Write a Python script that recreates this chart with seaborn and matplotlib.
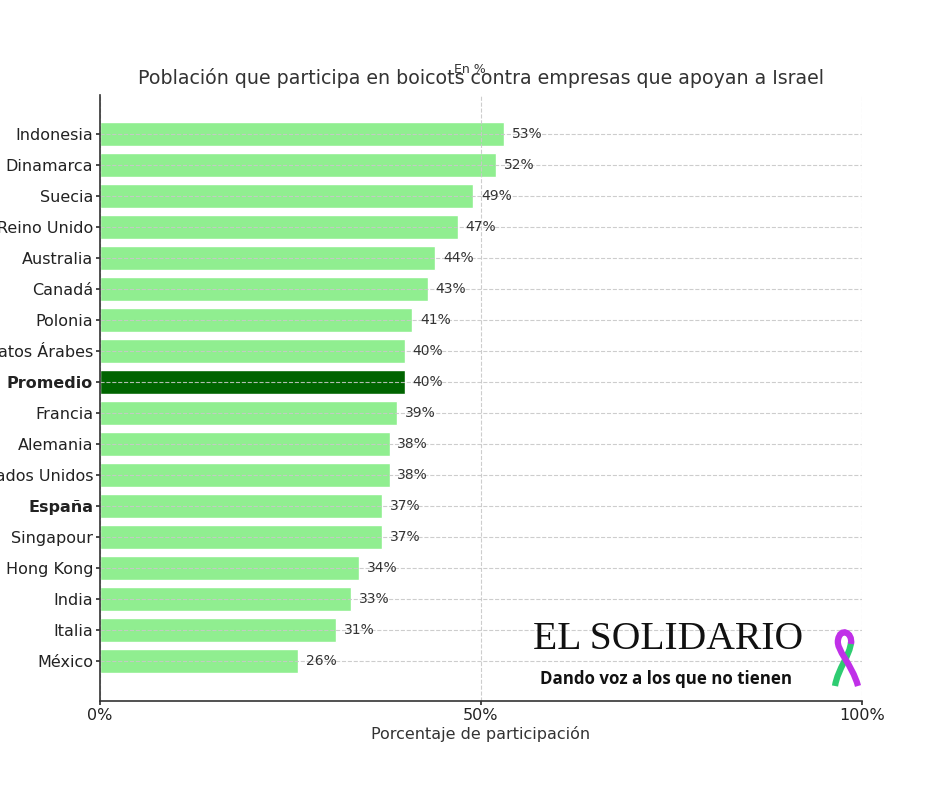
import matplotlib
matplotlib.use("Agg")
import matplotlib.pyplot as plt
import seaborn as sns
import pandas as pd
from matplotlib.path import Path
from matplotlib.patches import PathPatch

paises = ["Indonesia", "Dinamarca", "Suecia", "Reino Unido", "Australia", "Canadá",
          "Polonia", "Emiratos Árabes", "Promedio", "Francia", "Alemania",
          "Estados Unidos", "España", "Singapour", "Hong Kong", "India", "Italia", "México"]
porcentajes = [53, 52, 49, 47, 44, 43, 41, 40, 40, 39, 38, 38, 37, 37, 34, 33, 31, 26]
resaltados = ["Promedio", "España"]

df = pd.DataFrame({"pais": paises, "pct": porcentajes})
colores = {p: ("#006400" if p == "Promedio" else "#90EE90") for p in paises}

sns.set_theme(style="white")
plt.rcParams["font.family"] = ["DejaVu Sans"]

fig = plt.figure(figsize=(9.4, 7.88), dpi=100)
ax = fig.add_axes([0.1064, 0.1104, 0.8106, 0.769])

sns.barplot(data=df, x="pct", y="pais", hue="pais", palette=colores, legend=False,
            orient="h", width=0.8, saturation=1, ax=ax)

ax.set_xlim(0, 100)
ax.set_ylim(len(paises) - 1 + 1.29, -1.26)
ax.set_xticks([0, 50, 100])
ax.set_xticklabels(["0%", "50%", "100%"])
ax.grid(True, linestyle="--", color="#c8c8c8", linewidth=0.8, alpha=0.9)
ax.set_axisbelow(False)
for s in ["top", "right"]:
    ax.spines[s].set_visible(False)
for s in ["left", "bottom"]:
    ax.spines[s].set_color("#333333")
    ax.spines[s].set_linewidth(1.2)
    ax.spines[s].set_zorder(5)
ax.tick_params(axis="both", length=3, pad=2, color="#333333", labelcolor="#222222")
ax.tick_params(axis="y", labelsize=11.5, left=True)
ax.tick_params(axis="x", labelsize=11.5, bottom=True)

for lbl in ax.get_yticklabels():
    if lbl.get_text() in resaltados:
        lbl.set_fontweight("bold")

for i, v in enumerate(porcentajes):
    ax.text(v + 1.0, i, f"{v}%", va="center", ha="left", fontsize=10, color="#333333")

ax.set_xlabel("Porcentaje de participación", fontsize=11.5, color="#333333", labelpad=2)
ax.set_ylabel("")
ax.set_title("Población que participa en boicots contra empresas que apoyan a Israel",
             fontsize=13.7, color="#333333", pad=8)
fig.text(0.5, 0.912, "En %", ha="center", va="center", fontsize=9, color="#333333")

# logo
fig.text(0.711, 0.177, "EL SOLIDARIO", ha="center", va="baseline", fontsize=28.5,
         family="Liberation Serif", color="#111111")
fig.text(0.7085, 0.132, "Dando voz a los que no tienen", ha="center", va="baseline",
         fontsize=12.2, fontweight="bold", family="Open Sans", color="#111111")

# ribbon (pixel coords, y from top)
def px(x, y):
    return (x / 940, 1 - y / 788)

verde = Path([px(851, 642), px(850, 656), px(838, 668), px(835, 686)],
             [Path.MOVETO, Path.CURVE4, Path.CURVE4, Path.CURVE4])
morado = Path([px(851, 644), px(853, 632), px(840, 627), px(838, 640),
               px(836, 650), px(852, 664), px(858, 686)],
              [Path.MOVETO, Path.CURVE4, Path.CURVE4, Path.CURVE4,
               Path.CURVE4, Path.CURVE4, Path.CURVE4])
fig.patches.append(PathPatch(verde, transform=fig.transFigure, fill=False,
                             edgecolor="#2ecc71", linewidth=4.5, capstyle="butt"))
fig.patches.append(PathPatch(morado, transform=fig.transFigure, fill=False,
                             edgecolor="#c030e8", linewidth=4.5, capstyle="butt"))

fig.savefig("out.png", dpi=100)
